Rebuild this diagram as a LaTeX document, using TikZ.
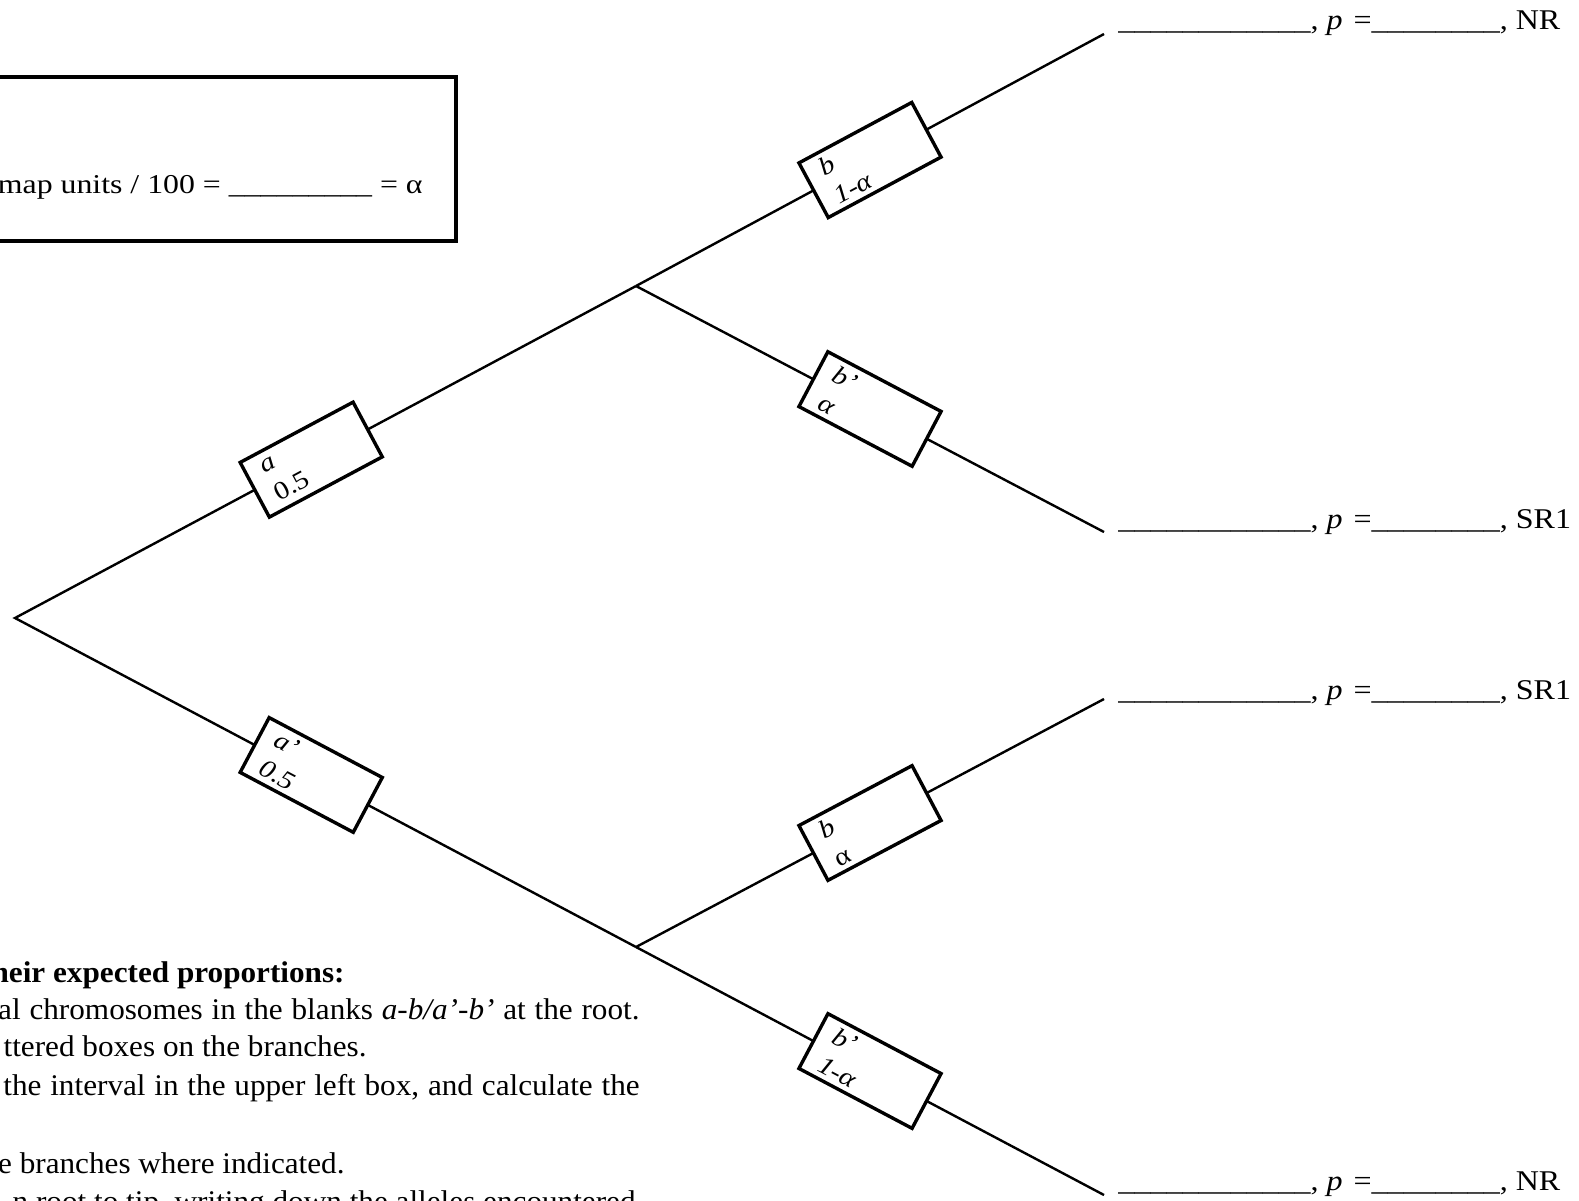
\documentclass[tikz,border=0pt]{standalone}
\usepackage{fontspec}
\setmainfont{Liberation Serif}
\newfontfamily\wideserif[FakeStretch=1.14]{Liberation Serif}
\newfontfamily\boxserif[FakeStretch=1.17]{Liberation Serif}
\newfontfamily\lblserif[FakeStretch=1.12]{Liberation Serif}
\newfontfamily\textserif[FakeStretch=1.04]{Liberation Serif}
\usetikzlibrary{calc}
\tikzset{
  tree/.style={line width=1.2pt},
  brbox/.style={draw, line width=1.7pt, fill=white, minimum width=64pt, minimum height=31pt,
    inner xsep=8pt, inner ysep=0pt, text width=48pt, align=left,
    font=\wideserif\fontsize{12.8}{16}\selectfont, outer sep=0pt},
  lbl/.style={anchor=base west, inner sep=0pt, font=\lblserif\fontsize{14.3}{16}\selectfont},
  instr/.style={anchor=base east, inner sep=0pt, font=\textserif\fontsize{15}{17}\selectfont},
}
\newcommand{\pblank}{, \textit{p}\hspace{1.5pt} =}
\newcommand{\widespaces}{\spaceskip=4.4pt\relax}
\begin{document}
\begin{tikzpicture}[x=0.5pt,y=-0.5pt]
\useasboundingbox (0,0) rectangle (1579,1200);
\clip (0,0) rectangle (1579,1200);
% upper left box
\draw[line width=1.7pt] (-20,77) rectangle (456,241);
\node[anchor=base east, inner sep=0pt, font=\boxserif\fontsize{13.6}{15}\selectfont] (mu) at (423,193)
  {map units / 100 = \_\_\_\_\_\_\_\_\_ = α};
% tree points
\coordinate (R) at (15,618);
\coordinate (U) at (636,286);
\coordinate (L) at (636,947);
\coordinate (T1) at (1104,34);
\coordinate (T2) at (1104,532);
\coordinate (T3) at (1104,699);
\coordinate (T4) at (1104,1195);
\draw[tree, line join=miter] (U) -- (R) -- (L);
\draw[tree] (U) -- (T1);
\draw[tree] (U) -- (T2);
\draw[tree] (L) -- (T3);
\draw[tree] (L) -- (T4);
% branch boxes
\node[brbox, rotate=28.1] (ba) at ($(R)!0.477!(U)$) {\textit{a}\\0.5};
\node[brbox, rotate=-27.9] (bap) at ($(R)!0.477!(L)$) {\textit{a’}\\\textit{0.5}};
\node[brbox, rotate=28.2] (bb1) at ($(U)!0.5!(T1)$) {\textit{b}\\\textit{1-α}};
\node[brbox, rotate=-27.8] (bbp1) at ($(U)!0.5!(T2)$) {\textit{b’}\\\textit{α}};
\node[brbox, rotate=27.9] (bb2) at ($(L)!0.5!(T3)$) {\textit{b}\\α};
\node[brbox, rotate=-27.9] (bbp2) at ($(L)!0.5!(T4)$) {\textit{b’}\\\textit{1-α}};
% tip labels
\node[lbl] (l1) at (1118,29) {\_\_\_\_\_\_\_\_\_\_\_\_\pblank\_\_\_\_\_\_\_\_, NR};
\node[lbl] (l2) at (1118,528) {\_\_\_\_\_\_\_\_\_\_\_\_\pblank\_\_\_\_\_\_\_\_, SR1};
\node[lbl] (l3) at (1118,699) {\_\_\_\_\_\_\_\_\_\_\_\_\pblank\_\_\_\_\_\_\_\_, SR1};
\node[lbl] (l4) at (1118,1190) {\_\_\_\_\_\_\_\_\_\_\_\_\pblank\_\_\_\_\_\_\_\_, NR};
% instructions (cut off at left)
\node[instr] (i1) at (345,982) {\bfseries heir expected proportions:};
\node[instr] (i2) at (640,1019) {\widespaces al chromosomes in the blanks \textit{a-b/a’-b’} at the root.};
\node[instr] (i3) at (367,1056) {ttered boxes on the branches.};
\node[instr] (i4) at (640,1095) {\widespaces the interval in the upper left box, and calculate the};
\node[instr] (i5) at (345,1173) {e branches where indicated.};
\node[instr] (i6) at (636,1211) {n root to tip, writing down the alleles encountered};
\end{tikzpicture}
\end{document}
